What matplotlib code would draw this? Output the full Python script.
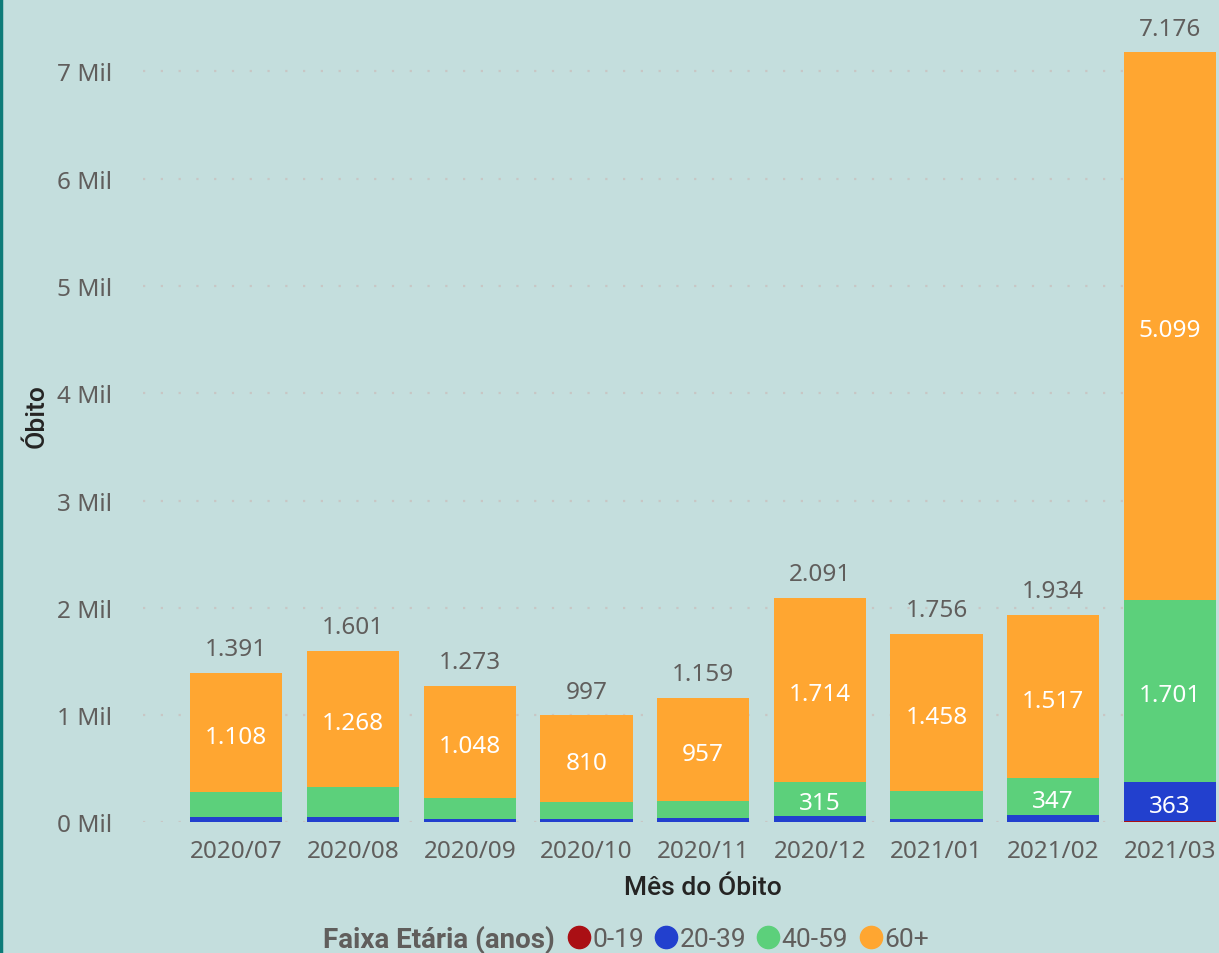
"""
obitos_faixa_etaria.py
Stacked monthly deaths by age group, Jul/2020 – Mar/2021.
"""

import matplotlib.pyplot as plt
from matplotlib.lines import Line2D
import numpy as np

# ── data ──────────────────────────────────────────────────────────────────────
MESES = ["2020/07", "2020/08", "2020/09", "2020/10", "2020/11",
         "2020/12", "2021/01", "2021/02", "2021/03"]

FAIXAS = ["0-19", "20-39", "40-59", "60+"]

OBITOS_0_19  = [3, 8, 5, 3, 5, 6, 3, 4, 13]
OBITOS_20_39 = [48, 43, 28, 30, 37, 56, 30, 66, 363]
OBITOS_40_59 = [232, 282, 192, 154, 160, 315, 265, 347, 1701]
OBITOS_60    = [1108, 1268, 1048, 810, 957, 1714, 1458, 1517, 5099]

CORES = ["#AA0F14", "#2240CE", "#5CD07B", "#FFA631"]

BG        = "#C4DEDD"
TXT_GRAY  = "#605E5C"
TXT_DARK  = "#252423"
GRID      = "#C8C6C4"
BORDER    = "#0E7B78"

FONT      = "Noto Sans"
FONT_COND = "Roboto"


def fmt(v: int) -> str:
    # pt-BR thousands separator
    return f"{v:,}".replace(",", ".")


def plot() -> None:
    series = [np.array(OBITOS_0_19), np.array(OBITOS_20_39),
              np.array(OBITOS_40_59), np.array(OBITOS_60)]
    totais = sum(series)
    x = np.arange(len(MESES))

    fig = plt.figure(figsize=(12.19, 9.54), dpi=100)
    fig.patch.set_facecolor(BG)
    ax = fig.add_axes([0.1173, 0.1368, 0.8827, 0.8527])
    ax.set_facecolor(BG)

    bottom = np.zeros(len(MESES))
    for vals, cor in zip(series, CORES):
        ax.bar(x, vals, bottom=bottom, width=0.79, color=cor, zorder=3)
        for xi, b, v in zip(x, bottom, vals):
            if v >= 300:
                ax.text(xi, b + v / 2 - 40, fmt(int(v)), ha="center",
                        va="center", color="white", fontsize=17.5,
                        family=FONT, zorder=4)
        bottom = bottom + vals

    for xi, t in zip(x, totais):
        ax.text(xi, t + 110, fmt(int(t)), ha="center", va="bottom",
                color=TXT_GRAY, fontsize=17.5, family=FONT)

    ax.set_xlim(-0.8, 8.42)
    ax.set_ylim(0, 7580)
    ax.set_yticks(np.arange(0, 8000, 1000))
    ax.set_yticklabels([f"{i} Mil" for i in range(8)])
    ax.set_xticks(x)
    ax.set_xticklabels(MESES)
    ax.tick_params(length=0, labelsize=17.5, labelcolor=TXT_GRAY, pad=12)
    ax.tick_params(axis="y", pad=22)
    for lbl in ax.get_xticklabels() + ax.get_yticklabels():
        lbl.set_family(FONT)

    ax.grid(axis="y", color=GRID, linestyle=(0, (1, 7)), linewidth=1.6,
            zorder=0)
    for s in ax.spines.values():
        s.set_visible(False)

    fig.text(37 / 1219, 1 - 416 / 954, "Óbito", rotation=90, ha="center",
             va="center", fontsize=19, fontweight="medium", color=TXT_DARK,
             family=FONT_COND)
    fig.text(703 / 1219, 1 - 888 / 954, "Mês do Óbito", ha="center",
             va="center", fontsize=19, fontweight="medium", color=TXT_DARK,
             family=FONT_COND)

    # legend: bold title on the left, circle handles in one row
    fig.text(555 / 1219, 1 - 940 / 954, "Faixa Etária (anos)", ha="right",
             va="center", fontsize=20, fontweight="bold", color=TXT_GRAY,
             family=FONT_COND)
    handles = [Line2D([], [], marker="o", linestyle="", markersize=16,
                      markerfacecolor=c, markeredgecolor=c) for c in CORES]
    leg = fig.legend(handles, FAIXAS, loc="center left", ncol=4,
                     bbox_to_anchor=(563 / 1219, 1 - 940 / 954),
                     frameon=False, handletextpad=-0.1, columnspacing=0.25,
                     handlelength=1.2, borderaxespad=0, borderpad=0,
                     prop={"family": FONT_COND, "size": 19})
    for t in leg.get_texts():
        t.set_color(TXT_GRAY)

    fig.add_artist(plt.Line2D([0.001, 0.001], [0, 1], color=BORDER,
                              linewidth=2.5, transform=fig.transFigure))

    fig.savefig("out.png", dpi=100, facecolor=BG)


if __name__ == "__main__":
    plot()
